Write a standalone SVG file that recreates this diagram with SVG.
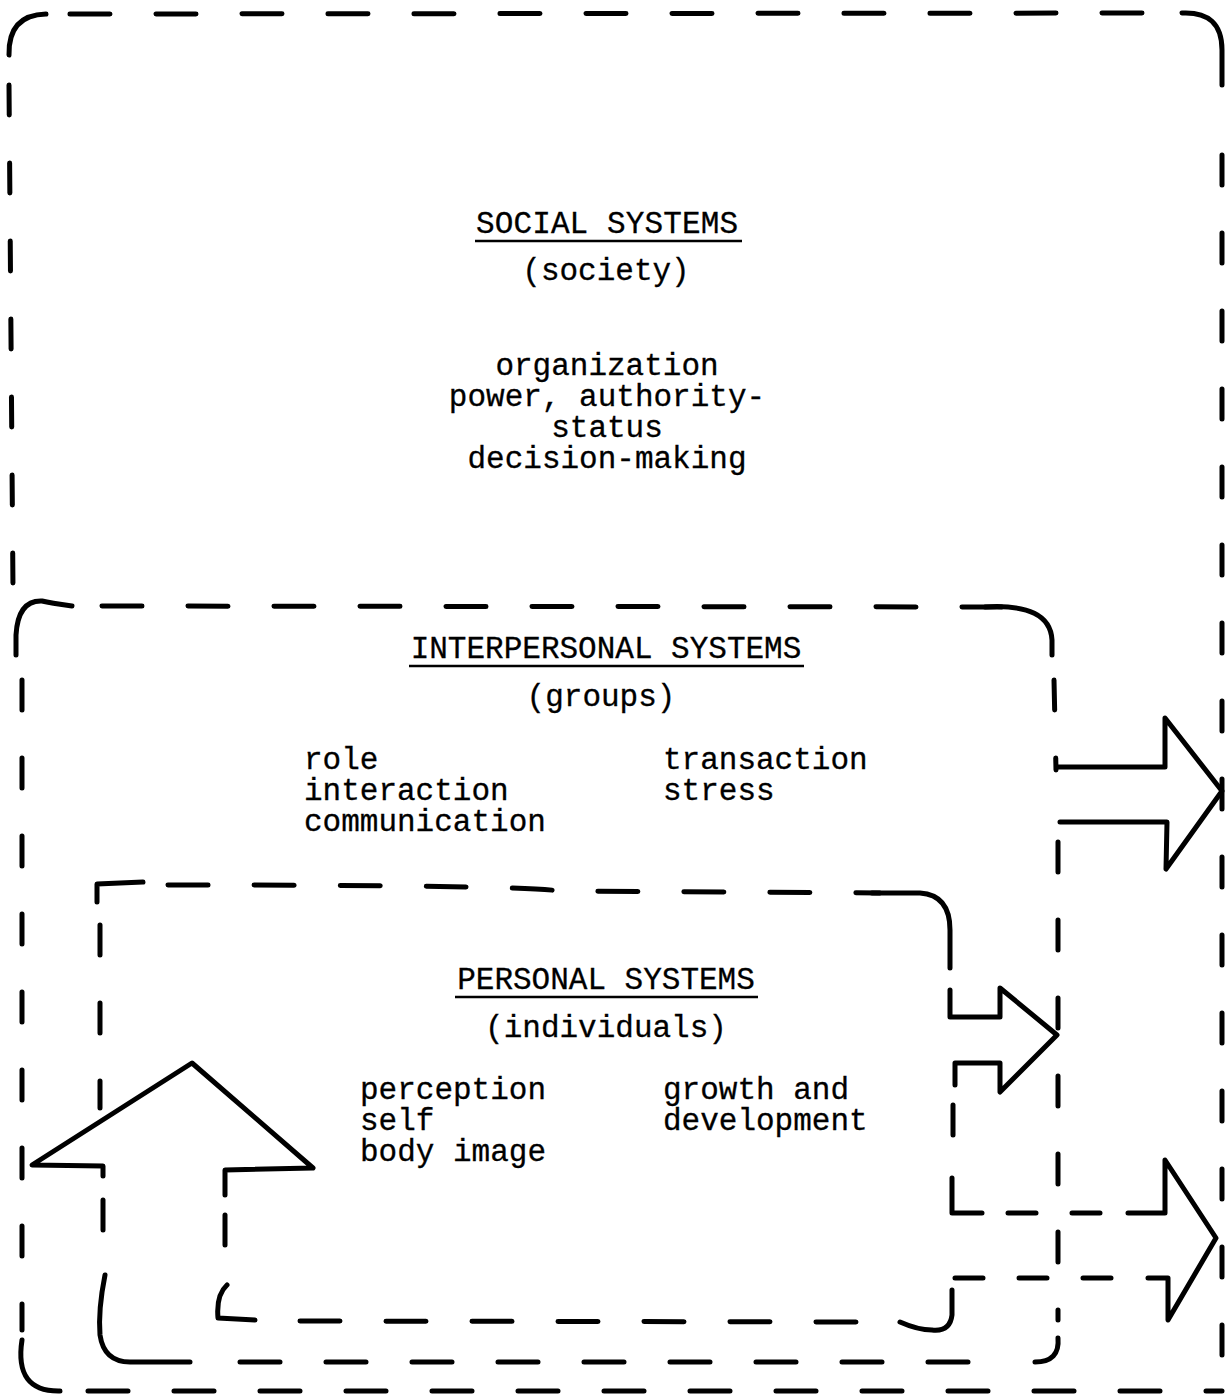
<svg xmlns="http://www.w3.org/2000/svg" width="1226" height="1399" viewBox="0 0 1226 1399">
<style>
.ln{fill:none;stroke:#000;stroke-width:5;stroke-linecap:round;stroke-linejoin:round}
.dh{stroke-dasharray:40 46}
.dv{stroke-dasharray:30 48}
.ds{stroke-dasharray:28 36}
.t{font-family:"Liberation Mono","Courier New",monospace;font-size:31px;fill:#000;stroke:#000;stroke-width:0.3}
.c{text-anchor:middle}
.u{stroke:#000;stroke-width:2.5}
</style>
<rect width="1226" height="1399" fill="#fff"/>
<g id="social">
  <path class="ln" d="M9,55 Q8,15 46,14"/>
  <path class="ln dh" d="M70,14 L1160,13"/>
  <path class="ln" d="M1182,13 Q1222,11 1222,50 L1222,85"/>
  <path class="ln dv" d="M1222,155 L1222,1370"/>
  <path class="ln dh" d="M88,1391 L1222,1391"/>
  <path class="ln" d="M22,1340 Q14,1392 60,1391"/>
  <path class="ln dv" d="M9,85 L13,590"/>
  <text class="t c" x="607" y="233" textLength="262">SOCIAL SYSTEMS</text>
  <line class="u" x1="475" y1="241" x2="742" y2="241"/>
  <text class="t c" x="606" y="280">(society)</text>
  <text class="t c" x="607" y="375">organization</text>
  <text class="t c" x="607" y="406">power, authority-</text>
  <text class="t c" x="607" y="437">status</text>
  <text class="t c" x="607" y="468">decision-making</text>
</g>
<g id="interpersonal">
  <path class="ln" d="M16,655 L16,635 Q18,600 42,601 Q50,603 72,606"/>
  <path class="ln dh" d="M102,606 L1010,607"/>
  <path class="ln" d="M985,607 Q1050,603 1052,640 L1052,655"/>
  <path class="ln dv" d="M1054,680 L1056,770"/>
  <path class="ln dv" d="M22,680 L22,1330"/>
  <path class="ln dv" d="M1058,842 L1058,1320"/>
  <path class="ln" d="M1058,1338 Q1060,1362 1035,1362"/>
  <path class="ln dh" d="M240,1362 L1010,1362"/>
  <text class="t c" x="606" y="658">INTERPERSONAL SYSTEMS</text>
  <line class="u" x1="409" y1="666" x2="804" y2="666"/>
  <text class="t c" x="601" y="706">(groups)</text>
  <text class="t" x="304" y="769">role</text>
  <text class="t" x="304" y="800">interaction</text>
  <text class="t" x="304" y="831">communication</text>
  <text class="t" x="663" y="769">transaction</text>
  <text class="t" x="663" y="800">stress</text>
</g>
<g id="personal">
  <path class="ln" d="M97,902 L97,884 L143,882"/>
  <path class="ln dh" d="M168,885 Q520,885 560,891 L880,893"/>
  <path class="ln" d="M872,893 L920,893 Q950,895 950,930 L950,968"/>
  <path class="ln dv" d="M100,925 L100,1108"/>
  <path class="ln dv" d="M953,1105 L953,1160"/>
  <path class="ln" d="M952,1178 L952,1213 L982,1213"/>
  <path class="ln ds" d="M1008,1213 L1130,1213"/>
  <path class="ln" d="M952,1290 L952,1315 Q950,1332 932,1330 Q918,1330 900,1322"/>
  <path class="ln dh" d="M300,1321 L870,1322"/>
  <path class="ln ds" d="M955,1278 L1140,1278"/>
  <text class="t c" x="606" y="989">PERSONAL SYSTEMS</text>
  <line class="u" x1="455" y1="997" x2="758" y2="997"/>
  <text class="t c" x="606" y="1037">(individuals)</text>
  <text class="t" x="360" y="1099">perception</text>
  <text class="t" x="360" y="1130">self</text>
  <text class="t" x="360" y="1161">body image</text>
  <text class="t" x="663" y="1099">growth and</text>
  <text class="t" x="663" y="1130">development</text>
</g>
<g id="connectors">
  <path id="arrow-inter-out" class="ln" d="M1058,767 L1165,767 L1165,718 L1222,791 L1166,869 L1167,822 L1060,822"/>
  <path id="arrow-personal-inter" class="ln" d="M950,990 L950,1017 L1000,1017 L1000,988 L1057,1035 L1000,1092 L1000,1063 L955,1063 L955,1085"/>
  <path id="arrow-personal-out" class="ln" d="M1128,1213 L1165,1213 L1165,1160 L1216,1238 L1168,1320 L1168,1278 L1148,1278"/>
  <path id="arrow-up" class="ln" d="M103,1176 L103,1166 L32,1165 L192,1063 L313,1168 L225,1170 L225,1195"/>
  <path class="ln dv" d="M103,1200 L103,1270"/>
  <path class="ln" d="M105,1275 Q98,1310 100,1335 Q104,1362 130,1362 L190,1362"/>
  <path class="ln dv" d="M225,1215 L225,1275"/>
  <path class="ln" d="M227,1285 Q216,1295 218,1318 L255,1320"/>
</g>
</svg>
